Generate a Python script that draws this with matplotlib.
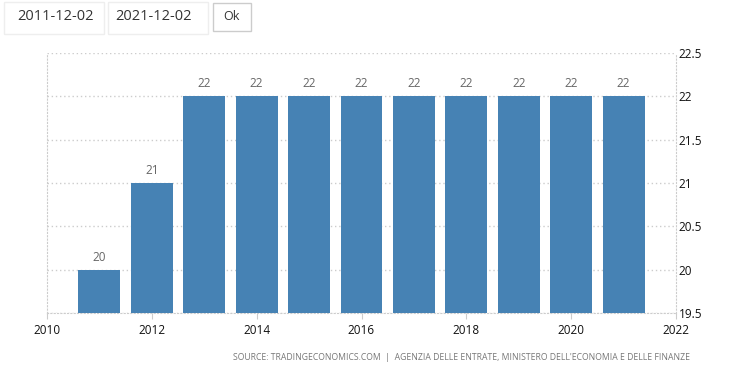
import matplotlib
matplotlib.use("Agg")
import matplotlib.pyplot as plt
from matplotlib.patches import Rectangle

years = [2011, 2012, 2013, 2014, 2015, 2016, 2017, 2018, 2019, 2020, 2021]
values = [20, 21, 22, 22, 22, 22, 22, 22, 22, 22, 22]
xticks = [2010, 2012, 2014, 2016, 2018, 2020, 2022]
yticks = [19.5, 20, 20.5, 21, 21.5, 22, 22.5]
start_date = "2011-12-02"
end_date = "2021-12-02"
source = "SOURCE: TRADINGECONOMICS.COM  |  AGENZIA DELLE ENTRATE, MINISTERO DELL'ECONOMIA E DELLE FINANZE"

plt.rcParams['font.family'] = ['Open Sans', 'DejaVu Sans']

fig = plt.figure(figsize=(7.46, 3.82), dpi=100)
ax = fig.add_axes([47/746, 1 - 313/382, 629/746, 260/382])

ax.bar(years, values, width=0.8, color='#4682b4', zorder=3)
for x, v in zip(years, values):
    ax.text(x, v + 0.07, str(v), ha='center', va='bottom', fontsize=8.5, color='#666666')

ax.set_xlim(2010, 2022)
ax.set_ylim(19.5, 22.5)
ax.set_xticks(xticks)
ax.set_yticks(yticks)
ax.set_yticklabels([f"{t:g}" for t in yticks])
ax.yaxis.tick_right()
ax.tick_params(axis='y', length=0, labelsize=8.5, pad=2, colors='#111111')
ax.tick_params(axis='x', length=4, labelsize=8.5, pad=4, colors='#111111')
ax.tick_params(axis='x', color='#cccccc')
ax.grid(axis='y', linestyle=(0, (1, 2)), color='#cccccc', linewidth=1, zorder=0)
for side in ['left', 'right', 'bottom']:
    ax.spines[side].set_linestyle((0, (1, 2)))
    ax.spines[side].set_color('#cccccc')
ax.spines['top'].set_visible(False)

# date-range widgets at the top
def box(x0, y0, w, h, ec):
    fig.patches.append(Rectangle((x0/746, 1 - (y0 + h)/382), w/746, h/382,
                                 transform=fig.transFigure, fill=False,
                                 edgecolor=ec, linewidth=1))

box(4, 2, 100, 32, '#eeeeee')
box(108, 2, 100, 32, '#eeeeee')
box(213, 3, 38, 28, '#cccccc')
fig.text(56/746, 1 - 17/382, start_date, ha='center', va='center', fontsize=10.5, color='#333333')
fig.text(153/746, 1 - 17/382, end_date, ha='center', va='center', fontsize=10.5, color='#333333')
fig.text(232/746, 1 - 17/382, "Ok", ha='center', va='center', fontsize=9, color='#333333')

fig.text(690/746, 1 - 357/382, source, ha='right', va='center', fontsize=6.2, color='#777777')

fig.savefig("out.png", dpi=100)
